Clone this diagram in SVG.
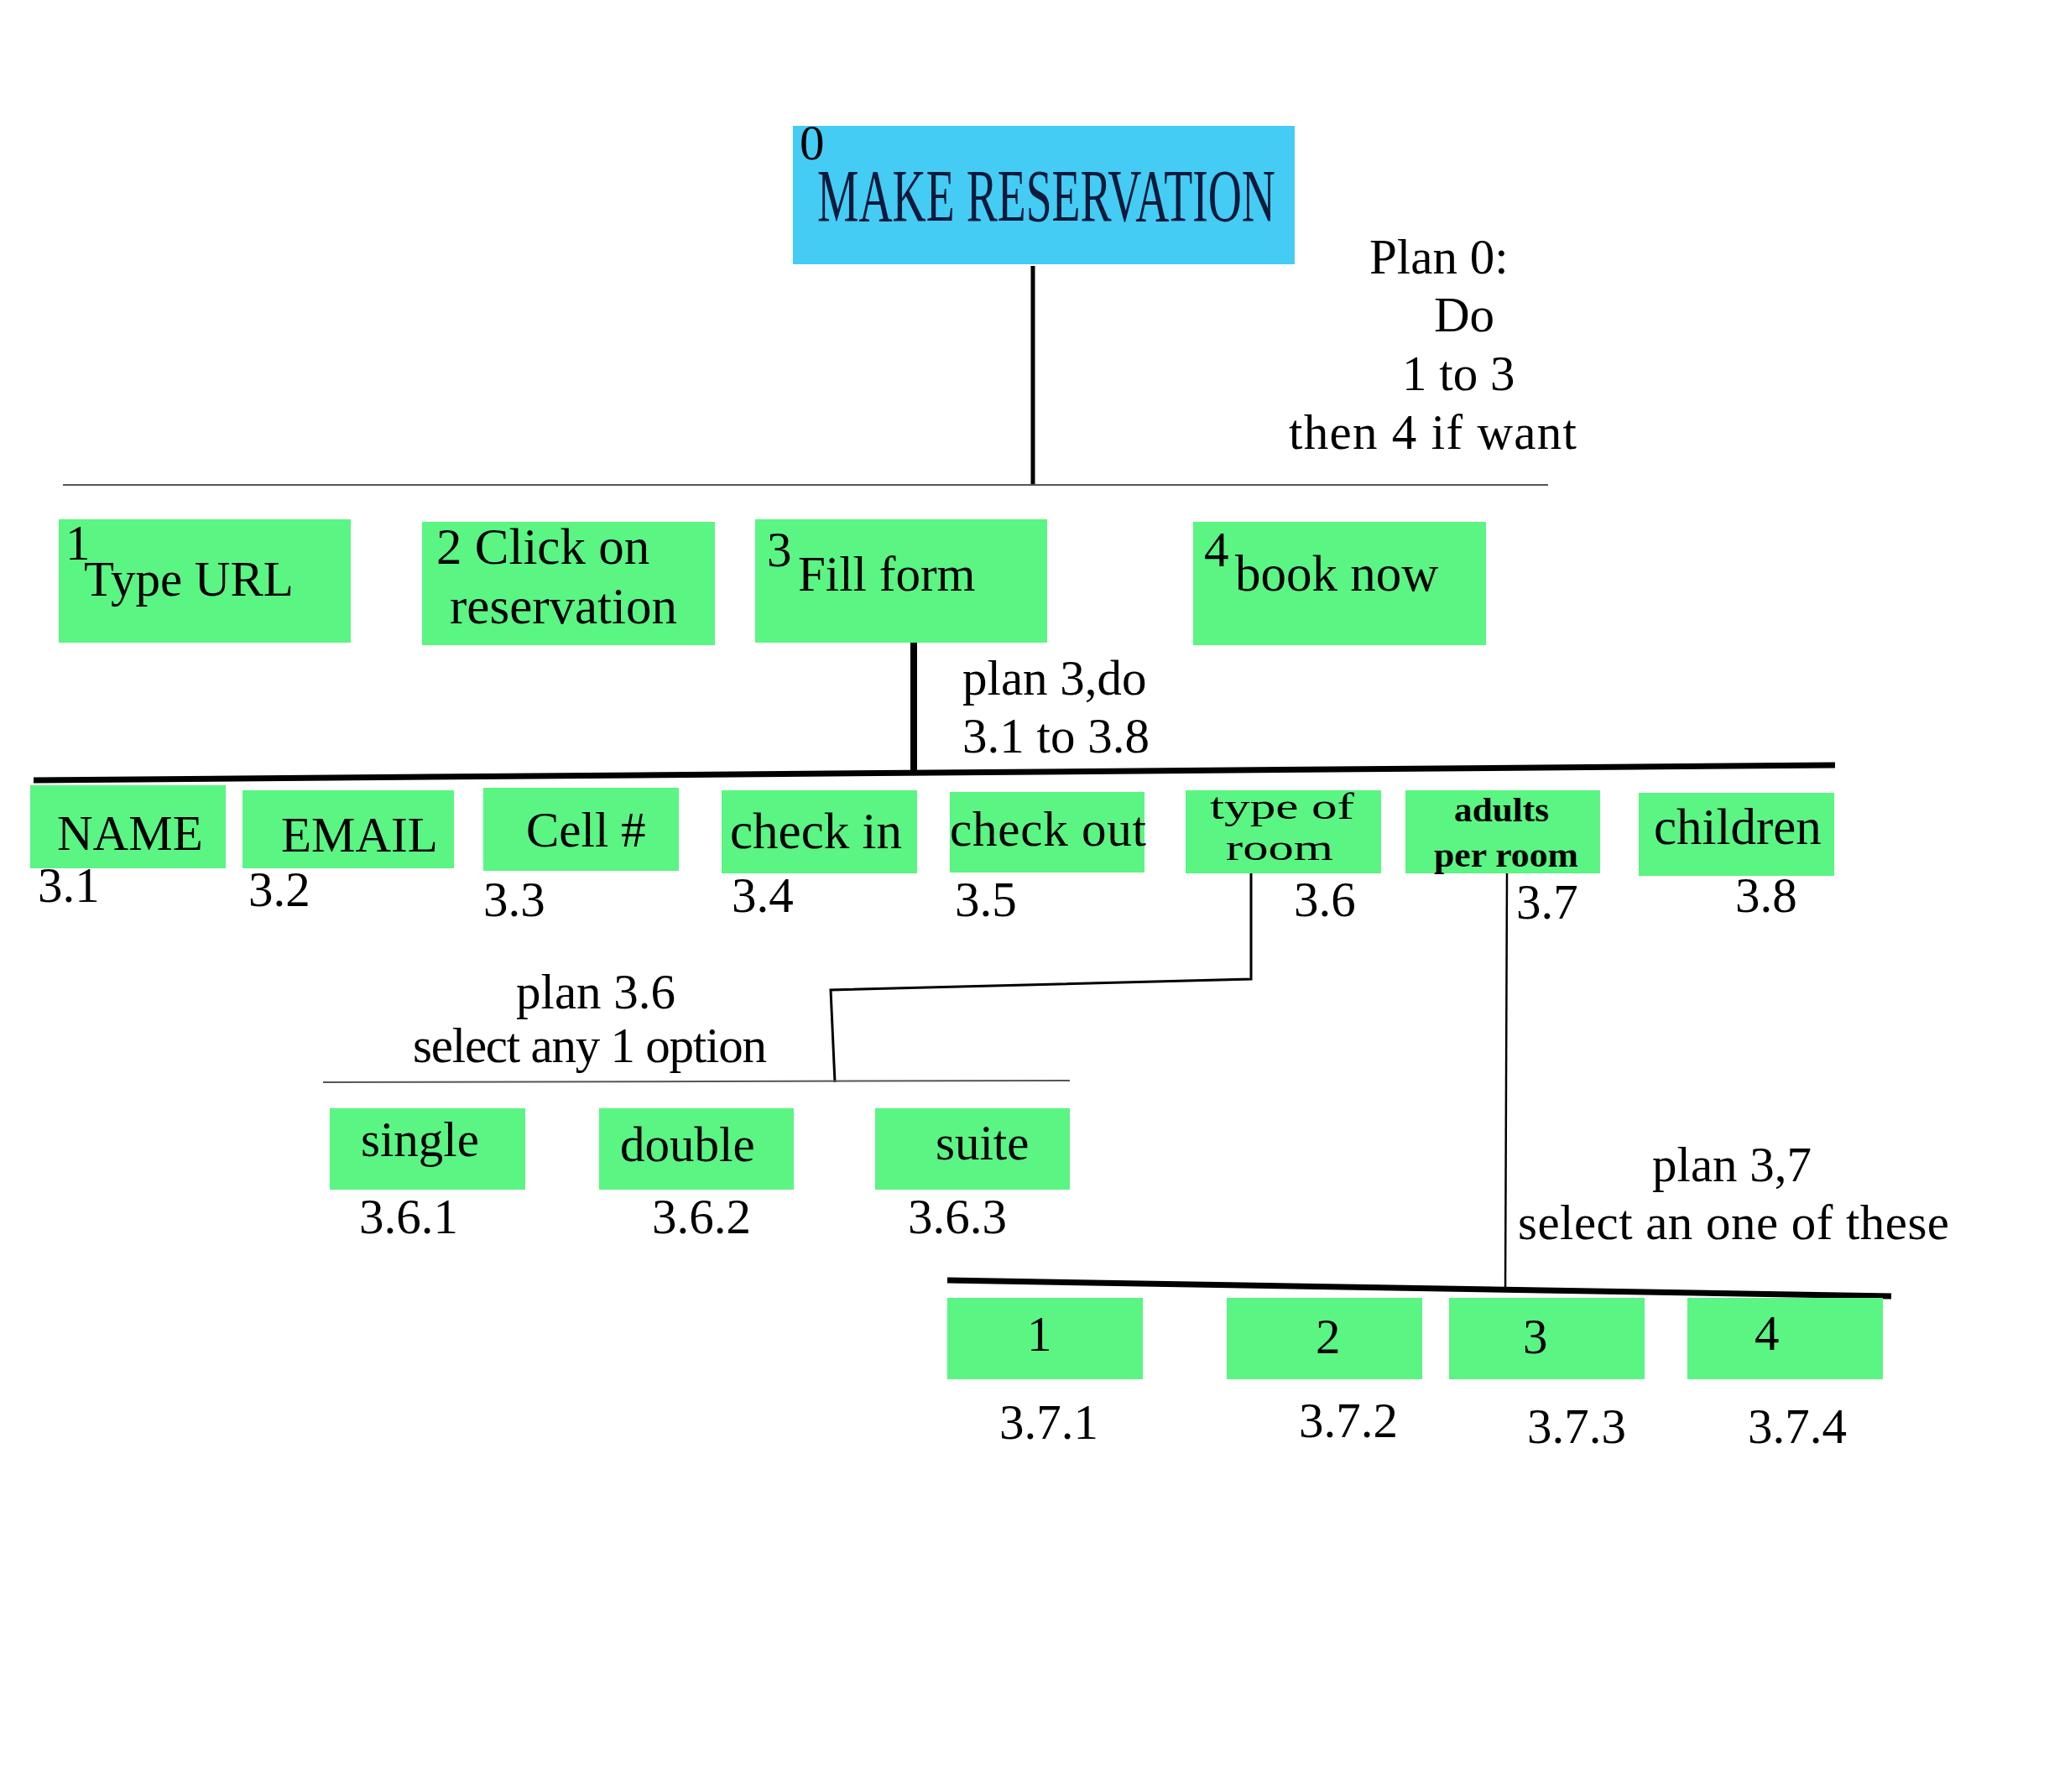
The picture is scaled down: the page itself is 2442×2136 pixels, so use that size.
<svg xmlns="http://www.w3.org/2000/svg" width="2442" height="2136" viewBox="0 0 2442 2136">
<style>
text{font-family:"Liberation Serif","Times New Roman",serif;font-size:59px;fill:#000}
.l{font-size:61px}
.g{fill:#5af582}
.b{fill:#44ccf4}
.thick{stroke:#000;fill:none}
.thin{stroke:#555;stroke-width:2;fill:none}
.small{font-size:44px}
.bold{font-size:40px;font-weight:bold}
.title{font-size:88px;fill:#0d1a3c}
</style>
<rect width="2442" height="2136" fill="#fff"/>
<g id="connectors">
<line class="thick" x1="1231" y1="317" x2="1231" y2="578" stroke-width="5"/>
<line class="thin" x1="75" y1="578" x2="1845" y2="578"/>
<line class="thick" x1="1089" y1="766" x2="1089" y2="920" stroke-width="8"/>
<line class="thick" x1="40" y1="930" x2="2187" y2="912" stroke-width="7"/>
<polyline class="thick" points="1491,1041 1491,1167 990,1180 995,1290" stroke-width="3"/>
<line class="thin" x1="385" y1="1290" x2="1275" y2="1288"/>
<line class="thick" x1="1796" y1="1041" x2="1794" y2="1540" stroke-width="2.5"/>
<line class="thick" x1="1129" y1="1526" x2="2254" y2="1545" stroke-width="7"/>
</g>
<g id="node-0">
<rect class="b" x="945" y="150" width="598" height="165"/>
<text x="953" y="190">0</text>
<text class="title" x="974" y="263" textLength="546" lengthAdjust="spacingAndGlyphs">MAKE RESERVATION</text>
</g>
<g id="plan-0">
<text x="1632" y="326">Plan 0:</text>
<text x="1709" y="395">Do</text>
<text x="1671" y="465">1 to 3</text>
<text x="1536" y="535" textLength="343">then 4 if want</text>
</g>
<g id="node-1">
<rect class="g" x="70" y="619" width="348" height="147"/>
<text x="78" y="667">1</text>
<text x="100" y="710">Type URL</text>
</g>
<g id="node-2">
<rect class="g" x="503" y="622" width="349" height="147"/>
<text class="l" x="520" y="672">2 Click on</text>
<text class="l" x="536" y="743">reservation</text>
</g>
<g id="node-3">
<rect class="g" x="900" y="619" width="348" height="147"/>
<text x="914" y="675">3</text>
<text x="951" y="704">Fill form</text>
</g>
<g id="node-4">
<rect class="g" x="1422" y="622" width="349" height="147"/>
<text x="1435" y="675">4</text>
<text class="l" x="1472" y="704">book now</text>
</g>
<g id="plan-3">
<text x="1147" y="828">plan 3,do</text>
<text x="1147" y="897">3.1 to 3.8</text>
</g>
<g id="node-3-1">
<rect class="g" x="36" y="936" width="233" height="99"/>
<text x="68" y="1013">NAME</text>
<text x="45" y="1075">3.1</text>
</g>
<g id="node-3-2">
<rect class="g" x="289" y="942" width="252" height="93"/>
<text x="335" y="1015">EMAIL</text>
<text x="296" y="1080">3.2</text>
</g>
<g id="node-3-3">
<rect class="g" x="576" y="939" width="233" height="99"/>
<text x="627" y="1009">Cell #</text>
<text x="576" y="1092">3.3</text>
</g>
<g id="node-3-4">
<rect class="g" x="860" y="942" width="233" height="99"/>
<text class="l" x="870" y="1011">check in</text>
<text x="872" y="1087">3.4</text>
</g>
<g id="node-3-5">
<rect class="g" x="1132" y="944" width="232" height="96"/>
<text x="1132" y="1008" textLength="234">check out</text>
<text x="1138" y="1092">3.5</text>
</g>
<g id="node-3-6">
<rect class="g" x="1413" y="942" width="233" height="99"/>
<text class="small" x="1442" y="976" textLength="172" lengthAdjust="spacingAndGlyphs">type of</text>
<text class="small" x="1461" y="1025" textLength="128" lengthAdjust="spacingAndGlyphs">room</text>
<text x="1542" y="1092">3.6</text>
</g>
<g id="node-3-7">
<rect class="g" x="1675" y="942" width="232" height="99"/>
<text class="bold" x="1733" y="979" textLength="113" lengthAdjust="spacingAndGlyphs">adults</text>
<text class="bold" x="1709" y="1033" textLength="172" lengthAdjust="spacingAndGlyphs">per room</text>
<text x="1807" y="1095">3.7</text>
</g>
<g id="node-3-8">
<rect class="g" x="1953" y="945" width="233" height="99"/>
<text class="l" x="1971" y="1006">children</text>
<text x="2068" y="1087">3.8</text>
</g>
<g id="plan-3-6">
<text x="615" y="1202">plan 3.6</text>
<text x="492" y="1266" textLength="422">select any 1 option</text>
</g>
<g id="node-3-6-1">
<rect class="g" x="393" y="1321" width="233" height="97"/>
<text x="430" y="1378">single</text>
<text x="428" y="1470">3.6.1</text>
</g>
<g id="node-3-6-2">
<rect class="g" x="714" y="1321" width="232" height="97"/>
<text x="739" y="1384">double</text>
<text x="777" y="1470">3.6.2</text>
</g>
<g id="node-3-6-3">
<rect class="g" x="1043" y="1321" width="232" height="97"/>
<text x="1115" y="1382">suite</text>
<text x="1082" y="1470">3.6.3</text>
</g>
<g id="plan-3-7">
<text x="1969" y="1408">plan 3,7</text>
<text x="1809" y="1477" textLength="514">select an one of these</text>
</g>
<g id="node-3-7-1">
<rect class="g" x="1129" y="1547" width="233" height="97"/>
<text x="1224" y="1610">1</text>
<text x="1191" y="1715">3.7.1</text>
</g>
<g id="node-3-7-2">
<rect class="g" x="1462" y="1547" width="233" height="97"/>
<text x="1568" y="1613">2</text>
<text x="1548" y="1713">3.7.2</text>
</g>
<g id="node-3-7-3">
<rect class="g" x="1727" y="1547" width="233" height="97"/>
<text x="1815" y="1613">3</text>
<text x="1820" y="1720">3.7.3</text>
</g>
<g id="node-3-7-4">
<rect class="g" x="2011" y="1547" width="233" height="97"/>
<text x="2091" y="1609">4</text>
<text x="2083" y="1720">3.7.4</text>
</g>
</svg>
